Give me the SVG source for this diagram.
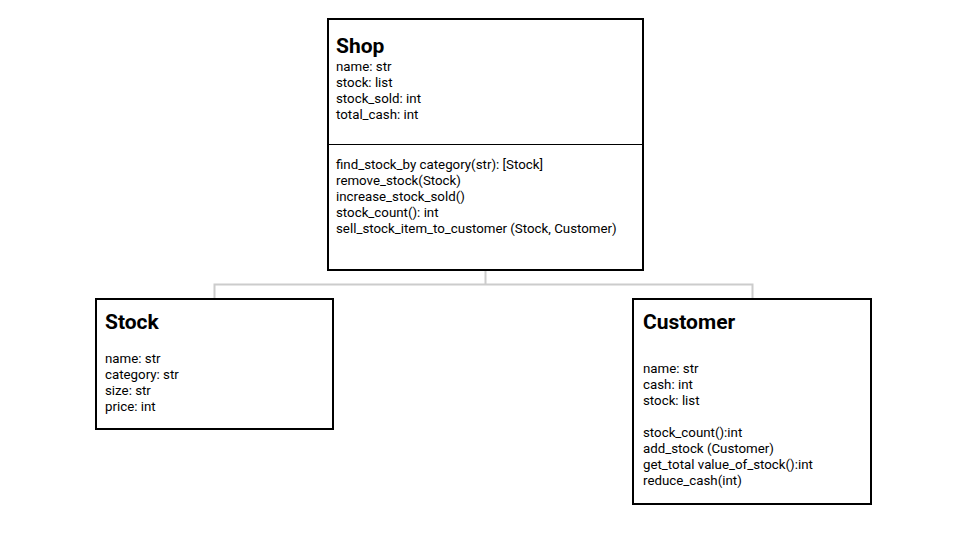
<svg xmlns="http://www.w3.org/2000/svg" width="960" height="540" viewBox="0 0 960 540">
<style>
.box{fill:#fff;stroke:#000;stroke-width:2}
.t{font-family:Roboto,"Liberation Sans",sans-serif;font-size:21px;font-weight:bold;fill:#000}
.a{font-family:Roboto,"Liberation Sans",sans-serif;font-size:13.3px;fill:#000}
.c{fill:none;stroke:#cccccc;stroke-width:2}
</style>
<rect width="960" height="540" fill="#fff"/>
<g id="connectors">
<path class="c" d="M485.5 270V284.5M214.5 299V284.5H752.5V299"/>
</g>
<g id="shop">
<rect class="box" x="328" y="19" width="315" height="251"/>
<line x1="328" y1="144.5" x2="643" y2="144.5" stroke="#000" stroke-width="1"/>
<text class="t" x="336" y="53">Shop</text>
<text class="a" x="336" y="71">name: str</text>
<text class="a" x="336" y="87">stock: list</text>
<text class="a" x="336" y="103">stock_sold: int</text>
<text class="a" x="336" y="119">total_cash: int</text>
<text class="a" x="336" y="169">find_stock_by category(str): [Stock]</text>
<text class="a" x="336" y="185">remove_stock(Stock)</text>
<text class="a" x="336" y="201">increase_stock_sold()</text>
<text class="a" x="336" y="217">stock_count(): int</text>
<text class="a" x="336" y="233">sell_stock_item_to_customer (Stock, Customer)</text>
</g>
<g id="stock">
<rect class="box" x="96" y="299" width="237" height="130"/>
<text class="t" x="105" y="329">Stock</text>
<text class="a" x="105" y="363">name: str</text>
<text class="a" x="105" y="379">category: str</text>
<text class="a" x="105" y="395">size: str</text>
<text class="a" x="105" y="411">price: int</text>
</g>
<g id="customer">
<rect class="box" x="633" y="299" width="238" height="205"/>
<text class="t" x="643" y="329">Customer</text>
<text class="a" x="643" y="373">name: str</text>
<text class="a" x="643" y="389">cash: int</text>
<text class="a" x="643" y="405">stock: list</text>
<text class="a" x="643" y="437">stock_count():int</text>
<text class="a" x="643" y="453">add_stock (Customer)</text>
<text class="a" x="643" y="469">get_total value_of_stock():int</text>
<text class="a" x="643" y="485">reduce_cash(int)</text>
</g>
</svg>
